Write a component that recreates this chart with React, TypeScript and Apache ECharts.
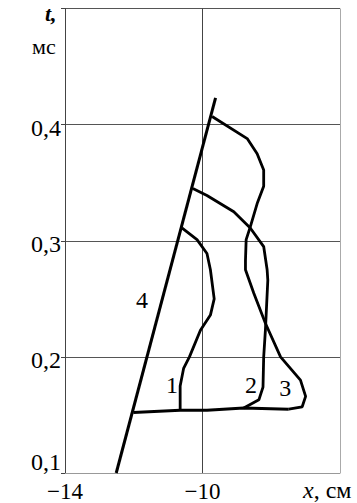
import React, { useEffect, useRef } from "react";
import * as echarts from "echarts";

const xTicks = [-14, -10, -6];
const yTicks = [0.1, 0.2, 0.3, 0.4, 0.5];

const line4: [number, number][] = [
  [-12.51, 0.1],
  [-9.62, 0.423],
];

const baseLine: [number, number][] = [
  [-12.01, 0.152],
  [-10.65, 0.154],
  [-9.87, 0.154],
  [-8.8, 0.156],
  [-7.49, 0.155],
];

const curve1: [number, number][] = [
  [-10.65, 0.154],
  [-10.65, 0.175],
  [-10.55, 0.19],
  [-10.38, 0.2],
  [-10.06, 0.223],
  [-9.77, 0.236],
  [-9.66, 0.25],
  [-9.77, 0.275],
  [-9.87, 0.289],
  [-10.16, 0.301],
  [-10.6, 0.311],
];

const curve2: [number, number][] = [
  [-10.28, 0.345],
  [-9.87, 0.339],
  [-9.09, 0.325],
  [-8.61, 0.311],
  [-8.22, 0.295],
  [-8.12, 0.275],
  [-8.1, 0.266],
  [-8.17, 0.223],
  [-8.22, 0.2],
  [-8.24, 0.174],
  [-8.36, 0.163],
  [-8.8, 0.156],
];

const curve3: [number, number][] = [
  [-9.72, 0.407],
  [-8.7, 0.388],
  [-8.41, 0.375],
  [-8.22, 0.361],
  [-8.22, 0.347],
  [-8.41, 0.332],
  [-8.61, 0.312],
  [-8.73, 0.301],
  [-8.75, 0.283],
  [-8.75, 0.275],
  [-8.51, 0.255],
  [-8.17, 0.229],
  [-7.73, 0.2],
  [-7.15, 0.18],
  [-7.0, 0.166],
  [-7.1, 0.157],
  [-7.49, 0.155],
];

const curveLabels = ["4", "1", "2", "3"];
const curveLabelPos: [number, number][] = [
  [-11.76, 0.249],
  [-10.89, 0.176],
  [-8.59, 0.176],
  [-7.59, 0.173],
];

const FONT = "Liberation Serif";

export default function App() {
  const ref = useRef<HTMLDivElement>(null);
  useEffect(() => {
    if (!ref.current) return;
    const chart = echarts.init(ref.current, undefined, { renderer: "svg" });
    const lineSeries = (data: [number, number][], w: number) => ({
      type: "line",
      data,
      showSymbol: false,
      symbol: "none",
      lineStyle: { color: "#000", width: w },
      silent: true,
    });
    chart.setOption({
      animation: false,
      backgroundColor: "#fff",
      grid: { left: 65, top: 8.5, right: 17, bottom: 30, show: false },
      xAxis: {
        type: "value",
        min: xTicks[0],
        max: xTicks[xTicks.length - 1],
        interval: 4,
        axisLine: { show: true, lineStyle: { color: "#999", width: 1 } },
        axisTick: { show: false },
        axisLabel: {
          margin: 7,
          color: "#000",
          fontFamily: FONT,
          fontSize: 23,
          formatter: (v: number) => (v === xTicks[xTicks.length - 1] ? "" : String(v).replace("-", "\u2212")),
        },
        splitLine: {
          show: true,
          lineStyle: { color: ["#444", "#444", "#aaa"], width: 1 },
        },
      },
      yAxis: {
        type: "value",
        min: yTicks[0],
        max: yTicks[yTicks.length - 1],
        interval: 0.1,
        axisLine: { show: true, lineStyle: { color: "#444", width: 1 } },
        axisTick: { show: true, length: 4, lineStyle: { color: "#444" } },
        axisLabel: {
          margin: 4,
          color: "#000",
          fontFamily: FONT,
          fontSize: 24,
          formatter: (v: number) => {
            const r = Math.round(v * 10) / 10;
            if (r === 0.5) return "";
            const s = r.toFixed(1).replace(".", ",");
            return r === 0.1 ? "{lo|" + s + "}" : "{n|" + s + "}";
          },
          rich: {
            n: { fontFamily: FONT, fontSize: 24, color: "#000", padding: [6, 0, 0, 0] },
            lo: { fontFamily: FONT, fontSize: 24, color: "#000", padding: [0, 0, 22, 0] },
          },
        },
        splitLine: { show: true, lineStyle: { color: "#555", width: 1 } },
      },
      series: [
        lineSeries(line4, 3),
        lineSeries(baseLine, 3),
        lineSeries(curve1, 2.8),
        lineSeries(curve2, 2.8),
        lineSeries(curve3, 2.8),
      ],
      graphic: [
        {
          type: "text",
          left: 45,
          top: 2,
          style: {
            text: "t,",
            fontFamily: FONT,
            fontSize: 22,
            fontStyle: "italic",
            fontWeight: "bold",
            fill: "#000",
          },
        },
        {
          type: "text",
          left: 32,
          top: 35,
          style: { text: "мс", fontFamily: FONT, fontSize: 22, fill: "#000" },
        },
        {
          type: "text",
          left: 303,
          top: 478,
          style: {
            rich: {
              i: { fontFamily: FONT, fontSize: 24, fontStyle: "italic", fill: "#000" },
              r: { fontFamily: FONT, fontSize: 24, fill: "#000" },
            },
            text: "{i|x}{r|, см}",
          },
        },
      ],
    });
    const labelGraphics = curveLabelPos.map((p, i) => {
      const px = chart.convertToPixel({ gridIndex: 0 }, p) as number[];
      return {
        type: "text",
        x: px[0],
        y: px[1],
        style: {
          text: curveLabels[i],
          fontFamily: FONT,
          fontSize: 24,
          fill: "#000",
          align: "center",
          verticalAlign: "middle",
        },
      };
    });
    chart.setOption({
      graphic: [
        {
          type: "text",
          left: 45,
          top: 2,
          style: {
            text: "t,",
            fontFamily: FONT,
            fontSize: 22,
            fontStyle: "italic",
            fontWeight: "bold",
            fill: "#000",
          },
        },
        {
          type: "text",
          left: 32,
          top: 35,
          style: { text: "мс", fontFamily: FONT, fontSize: 22, fill: "#000" },
        },
        {
          type: "text",
          left: 303,
          top: 478,
          style: {
            rich: {
              i: { fontFamily: FONT, fontSize: 24, fontStyle: "italic", fill: "#000" },
              r: { fontFamily: FONT, fontSize: 24, fill: "#000" },
            },
            text: "{i|x}{r|, см}",
          },
        },
        ...labelGraphics,
      ],
    }, { replaceMerge: ["graphic"] });
    return () => chart.dispose();
  }, []);
  return (
    <div
      ref={ref}
      style={{ position: "fixed", left: 0, top: 0, width: 357, height: 503 }}
    />
  );
}
